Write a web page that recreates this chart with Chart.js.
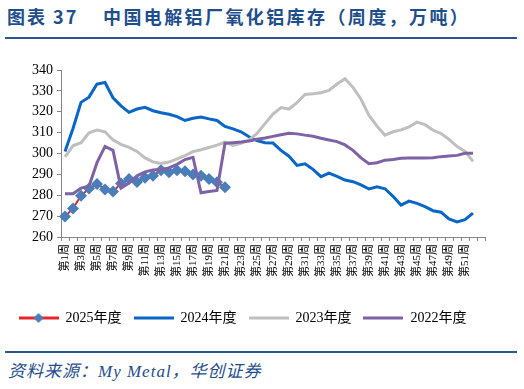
<!DOCTYPE html>
<html>
<head>
<meta charset="utf-8">
<script src="https://cdn.jsdelivr.net/npm/chart.js@4.4.1/dist/chart.umd.min.js"></script>
<style>
  body { margin: 0; width: 524px; height: 389px; background: #fff; position: relative; overflow: hidden; }
  .hd { position: absolute; top: 4px; font-family: "Noto Sans CJK SC", sans-serif; font-weight: 700; font-size: 18px; line-height: 24px; color: #1f4e8c; white-space: nowrap; }
  .rule { position: absolute; left: 5px; width: 512px; height: 2px; background: #2a5592; }
  .src { position: absolute; left: 8px; top: 361px; font-family: "Liberation Serif", "Noto Sans CJK SC", serif; font-style: italic; font-size: 17px; letter-spacing: 1px; line-height: 22px; color: #1f4e8c; white-space: nowrap; }
  #wrap { position: absolute; left: 0; top: 50px; width: 524px; height: 290px; }
</style>
</head>
<body>
<div class="hd" style="left:7px; letter-spacing:2px;">图表 37</div>
<div class="hd" style="left:103px; letter-spacing:2.4px;">中国电解铝厂氧化铝库存（周度，万吨）</div>
<div class="rule" style="top:37px;"></div>
<div id="wrap"><canvas id="lineChart"></canvas></div>
<div class="rule" style="top:351px;"></div>
<div class="src">资料来源：My Metal，华创证券</div>
<script>
const weeks = [];
for (let i = 1; i <= 52; i++) weeks.push("第" + i + "周");
weeks.push("");

const seriesNames = ["2025年度", "2024年度", "2023年度", "2022年度"];

const y2025 = [269.8, 273.7, 279.8, 283.2, 285.4, 282.7, 281.8, 285.6, 287.8, 286.4,
  288.4, 289.3, 292, 291, 292, 291.5, 290, 289.3, 287.8, 286.2, 283.8];

const y2024 = [301, 312, 324.5, 327, 333.3, 334, 326.7, 322.8, 319.7, 321.3,
  322.1, 320.5, 319.5, 318.8, 317.7, 315.8, 316.9, 317.5, 316.6, 315.8,
  313, 311.8, 310.4, 308, 306.2, 305.2, 305, 301.5, 298.7, 294.3,
  295.1, 292.4, 288.9, 290.6, 289, 287.3, 286.5, 285, 283, 284,
  283.1, 279.5, 275.3, 277.2, 276.1, 274.5, 272.6, 271.9, 268.7, 267.2,
  268.3, 271.4];

const y2023 = [298.4, 303.7, 305.2, 309.9, 311.2, 310.4, 306.5, 304.4, 302.9, 301,
  297.9, 296, 295.2, 295.9, 297.4, 299, 300.9, 301.8, 302.9, 304,
  305.4, 303.9, 304.9, 306.5, 309.6, 314.3, 318.9, 322, 321.3, 324.4,
  328.3, 328.6, 329.1, 330.2, 333.3, 335.8, 331.7, 326, 318.2, 313.1,
  308.8, 310.4, 311.3, 312.7, 315, 313.8, 311.2, 309.6, 306.8, 303.4,
  301, 296.2];

const y2022 = [280.7, 280.7, 283.4, 284.3, 295.6, 303.4, 301.5, 283.4, 285.9, 289.3,
  291.2, 292.1, 292.4, 293.1, 294.8, 297.1, 298.2, 281.2, 281.8, 282.3,
  304.9, 305.2, 305.5, 306, 306.8, 307.4, 308.2, 309, 309.7, 309.4,
  308.8, 308.3, 307.3, 306.5, 305.7, 304.1, 301.5, 297.9, 295.1, 295.6,
  296.8, 297.1, 297.7, 297.9, 297.9, 297.9, 298, 298.5, 298.8, 299.1,
  300.1, 300.1];

const yTicks = [260, 270, 280, 290, 300, 310, 320, 330, 340];

const red = "#e8262a";
const diamond = "#4a7ebb";
const blue = "#0866c6";
const gray = "#bfbfbf";
const purple = "#7e62a6";
const axisColor = "#868686";

// small legend icons: a line, plus a diamond for 2025
function makeIcon(color, marker) {
  const c = document.createElement("canvas");
  c.width = 40;
  c.height = 14;
  const g = c.getContext("2d");
  g.strokeStyle = color;
  g.lineWidth = 3;
  g.beginPath();
  g.moveTo(0, 7);
  g.lineTo(40, 7);
  g.stroke();
  if (marker) {
    g.fillStyle = marker;
    g.beginPath();
    g.moveTo(20, 2);
    g.lineTo(25, 7);
    g.lineTo(20, 12);
    g.lineTo(15, 7);
    g.closePath();
    g.fill();
  }
  return c;
}
const icons = [makeIcon(red, diamond), makeIcon(blue), makeIcon(gray), makeIcon(purple)];

const ctx = document.getElementById("lineChart");
new Chart(ctx, {
  type: "line",
  data: {
    labels: weeks,
    datasets: [
      {
        label: seriesNames[0],
        data: y2025,
        borderColor: red,
        borderWidth: 2,
        pointStyle: "rectRot",
        pointRadius: 6,
        pointBackgroundColor: diamond,
        pointBorderColor: diamond,
        pointBorderWidth: 0,
        tension: 0,
        order: 4,
      },
      {
        label: seriesNames[1],
        data: y2024,
        borderColor: blue,
        borderWidth: 3,
        pointRadius: 0,
        tension: 0,
        order: 3,
      },
      {
        label: seriesNames[2],
        data: y2023,
        borderColor: gray,
        borderWidth: 3,
        pointRadius: 0,
        tension: 0,
        order: 2,
      },
      {
        label: seriesNames[3],
        data: y2022,
        borderColor: purple,
        borderWidth: 3,
        pointRadius: 0,
        tension: 0,
        order: 1,
      },
    ],
  },
  options: {
    responsive: true,
    maintainAspectRatio: false,
    animation: false,
    layout: { padding: { top: 20, right: 39, bottom: 5, left: 0 } },
    plugins: {
      tooltip: { enabled: false },
      legend: {
        position: "bottom",
        labels: {
          usePointStyle: true,
          pointStyleWidth: 40,
          padding: 12,
          color: "#000",
          font: { family: "'Liberation Serif', 'Noto Sans CJK SC', serif", size: 14 },
          generateLabels: function () {
            return seriesNames.map(function (name, i) {
              return {
                text: name,
                pointStyle: icons[i],
                fillStyle: "transparent",
                strokeStyle: "transparent",
                lineWidth: 0,
                hidden: false,
                datasetIndex: i,
              };
            });
          },
        },
      },
    },
    scales: {
      x: {
        offset: true,
        grid: {
          display: true,
          drawOnChartArea: false,
          drawTicks: true,
          tickLength: 4,
          offset: true,
          color: axisColor,
        },
        border: { display: true, color: axisColor, width: 1 },
        ticks: {
          autoSkip: false,
          maxRotation: 90,
          minRotation: 90,
          padding: 3,
          color: "#000",
          font: { family: "'Liberation Serif', 'Noto Sans CJK SC', serif", size: 11 },
          callback: function (value, index) {
            return index % 2 === 0 ? weeks[index] : "";
          },
        },
        afterFit: function (scale) {
          scale.height = 62;
        },
      },
      y: {
        min: yTicks[0],
        max: yTicks[yTicks.length - 1],
        grid: {
          display: true,
          drawOnChartArea: false,
          drawTicks: true,
          tickLength: 4,
          color: axisColor,
        },
        border: { display: true, color: axisColor, width: 1 },
        afterBuildTicks: function (scale) {
          scale.ticks = yTicks.map(function (v) { return { value: v }; });
        },
        ticks: {
          padding: 4,
          color: "#000",
          font: { family: "'Liberation Serif', serif", size: 14 },
        },
        afterFit: function (scale) {
          scale.width = 61;
        },
      },
    },
  },
});
</script>
</body>
</html>
